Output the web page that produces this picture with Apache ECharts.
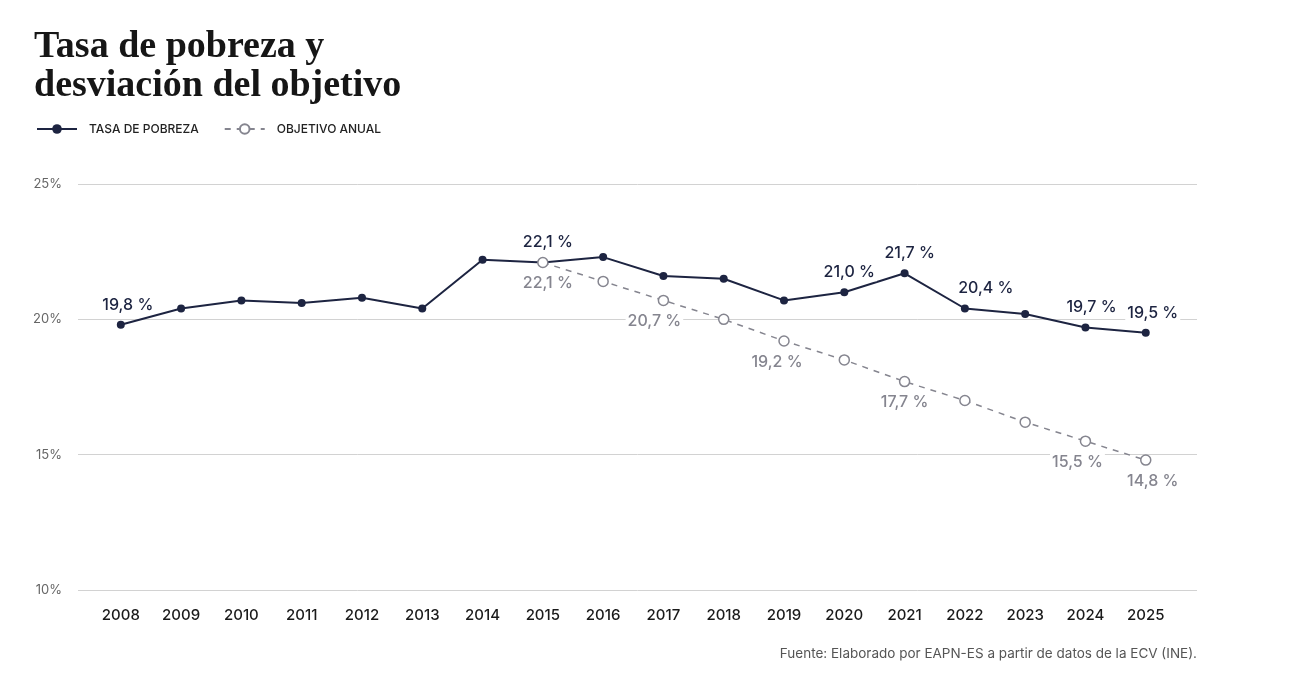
<!DOCTYPE html>
<html>
<head>
<meta charset="utf-8">
<style>
  html, body { margin: 0; padding: 0; background: #fff; }
  #chart { width: 1296px; height: 690px; }
</style>
<script src="https://cdn.jsdelivr.net/npm/echarts@6/dist/echarts.min.js"></script>
</head>
<body>
<div id="chart"></div>
<script>
const years = [2008, 2009, 2010, 2011, 2012, 2013, 2014, 2015, 2016, 2017, 2018, 2019, 2020, 2021, 2022, 2023, 2024, 2025];
const tasaPobreza = [19.8, 20.4, 20.7, 20.6, 20.8, 20.4, 22.2, 22.1, 22.3, 21.6, 21.5, 20.7, 21.0, 21.7, 20.4, 20.2, 19.7, 19.5];
const objetivoYears = [2015, 2016, 2017, 2018, 2019, 2020, 2021, 2022, 2023, 2024, 2025];
const objetivoAnual = [22.1, 21.4, 20.7, 20.0, 19.2, 18.5, 17.7, 17.0, 16.2, 15.5, 14.8];
const tasaLabelYears = [2008, 2015, 2020, 2021, 2022, 2024, 2025];
const objetivoLabelYears = [2015, 2017, 2019, 2021, 2024, 2025];
const yTicks = [10, 15, 20, 25];

const navy = '#1d2441';
const grey = '#85858f';
const font = 'Inter, "Noto Sans", sans-serif';

const fmt = v => v.toFixed(1).replace('.', ',') + ' %';

// small nudges so labels sit like in the original
const tasaOffsets = { 2008: [7, 0], 2022: [21, 0], 2020: [5, 0], 2021: [5, 0], 2024: [6, 0], 2025: [7, 0], 2015: [5, 0] };
const objOffsets = { 2015: [5, 0], 2017: [-9, 0], 2019: [-7, 0], 2024: [-8, 0], 2025: [7, 0] };

const tasaData = years.map((y, i) => {
  const item = { value: [y, tasaPobreza[i]] };
  if (tasaLabelYears.includes(y)) {
    item.label = { show: true, offset: tasaOffsets[y] || [0, 0] };
  }
  return item;
});

const objData = objetivoYears.map((y, i) => {
  const item = { value: [y, objetivoAnual[i]] };
  if (objetivoLabelYears.includes(y)) {
    item.label = { show: true, offset: objOffsets[y] || [0, 0] };
  }
  return item;
});

const chart = echarts.init(document.getElementById('chart'));

chart.setOption({
  animation: false,
  textStyle: { fontFamily: font },
  title: [
    {
      text: 'Tasa de pobreza y\ndesviación del objetivo',
      left: 34,
      top: 28,
      padding: 0,
      textStyle: {
        fontFamily: '"Liberation Serif", "DejaVu Serif", serif',
        fontWeight: 'bold',
        fontSize: 38,
        lineHeight: 39,
        color: '#161616'
      }
    },
    {
      text: 'Fuente: Elaborado por EAPN-ES a partir de datos de la ECV (INE).',
      right: 99,
      top: 647,
      padding: 0,
      textStyle: { fontFamily: font, fontWeight: 'normal', fontSize: 13.5, color: '#555' }
    }
  ],
  legend: {
    left: 36,
    top: 123,
    padding: 0,
    itemWidth: 40,
    itemHeight: 12,
    itemGap: 25,
    textStyle: { fontFamily: font, fontSize: 12, fontWeight: 500, color: '#222', padding: [0, 0, 0, 7] },
    data: ['TASA DE POBREZA', 'OBJETIVO ANUAL']
  },
  grid: { left: 78, right: 99, top: 184, bottom: 100 },
  xAxis: {
    type: 'value',
    min: 2007.29,
    max: 2025.85,
    splitLine: { show: false },
    axisLine: { show: false },
    axisTick: { show: false },
    axisLabel: {
      customValues: years,
      margin: 18,
      fontSize: 15,
      fontWeight: 500,
      color: '#1a1a1a',
      formatter: v => String(Math.round(v))
    }
  },
  yAxis: {
    type: 'value',
    min: 10,
    max: 25,
    interval: 5,
    axisLine: { show: false },
    axisTick: { show: false },
    splitLine: { lineStyle: { color: '#d2d2d2', width: 1 } },
    axisLabel: {
      customValues: yTicks,
      margin: 16,
      fontSize: 13,
      color: '#666',
      formatter: v => v + '%'
    }
  },
  series: [
    {
      name: 'TASA DE POBREZA',
      type: 'line',
      data: tasaData,
      symbol: 'circle',
      symbolSize: 8,
      showAllSymbol: true,
      lineStyle: { color: navy, width: 2 },
      itemStyle: { color: navy },
      label: {
        show: false,
        position: 'top',
        distance: 7,
        fontSize: 16,
        fontWeight: 500,
        color: navy,
        backgroundColor: '#fff',
        padding: [1, 2],
        formatter: p => fmt(p.value[1])
      },
      z: 3
    },
    {
      name: 'OBJETIVO ANUAL',
      type: 'line',
      data: objData,
      symbol: 'circle',
      symbolSize: 10,
      showAllSymbol: true,
      lineStyle: { color: grey, width: 1.5, type: [6, 6] },
      itemStyle: { color: '#fff', borderColor: grey, borderWidth: 1.5 },
      label: {
        show: false,
        position: 'bottom',
        distance: 6,
        fontSize: 16,
        fontWeight: 500,
        color: grey,
        backgroundColor: '#fff',
        padding: [1, 2],
        formatter: p => fmt(p.value[1])
      },
      z: 4
    }
  ]
});
</script>
</body>
</html>
